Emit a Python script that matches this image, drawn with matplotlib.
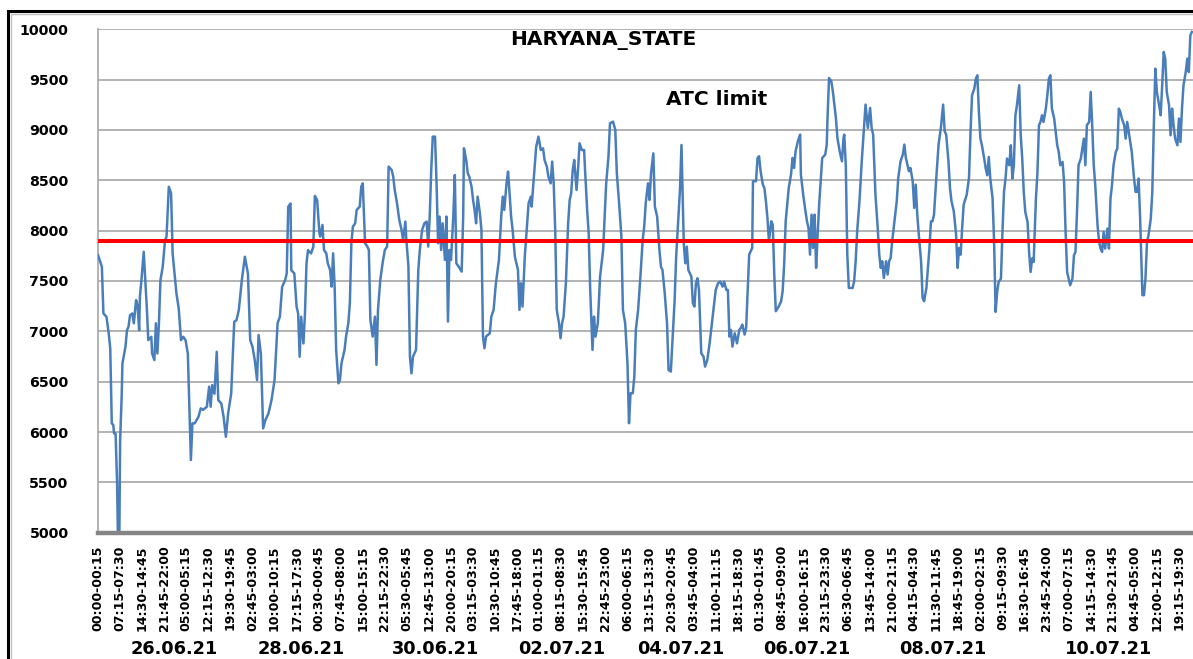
import matplotlib
matplotlib.use("Agg")
import matplotlib.pyplot as plt
import matplotlib.transforms as mtransforms
from matplotlib.patches import Rectangle
import numpy as np

# 15-minute block index (0 = 26.06.21 00:00) and drawal in MW
block_idx = [
    0, 5, 7, 11, 14, 16, 18, 20, 21, 23, 25, 26, 28, 29, 31, 32, 36, 38, 40, 42, 45, 47, 50, 52, 54,
    55, 57, 60, 62, 64, 66, 70, 71, 74, 76, 78, 80, 82, 85, 88, 90, 93, 96, 98, 101, 103, 106, 109,
    112, 115, 118, 122, 124, 127, 132, 135, 138, 143, 146, 148, 150, 153, 156, 158, 162, 165, 168,
    171, 175, 179, 182, 185, 189, 193, 197, 200, 203, 206, 209, 211, 214, 217, 220, 224, 228, 232,
    236, 239, 242, 246, 248, 250, 253, 254, 258, 261, 263, 265, 267, 270, 272, 274, 276, 280, 283,
    285, 288, 291, 292, 295, 297, 300, 302, 305, 307, 309, 311, 313, 316, 318, 320, 322, 324, 326,
    329, 331, 333, 335, 338, 340, 342, 344, 346, 348, 351, 354, 356, 358, 361, 364, 366, 368, 371,
    374, 377, 380, 382, 386, 388, 390, 393, 396, 399, 401, 404, 405, 408, 410, 412, 414, 418, 421,
    423, 426, 429, 432, 434, 436, 438, 440, 443, 445, 447, 449, 451, 453, 456, 458, 460, 462, 464,
    467, 469, 471, 474, 478, 480, 481, 484, 486, 488, 491, 493, 495, 497, 499, 502, 504, 506, 508,
    510, 515, 517, 520, 523, 527, 530, 532, 534, 537, 539, 541, 543, 545, 548, 550, 552, 554, 556,
    558, 561,
    566, 569, 570, 573, 576, 579, 582, 585, 587, 590, 592, 595, 597, 599, 601, 603, 606, 608, 610,
    612, 615, 618, 620, 622, 624, 626, 629, 631, 633, 636, 639, 640, 643, 645, 647, 650, 652, 654,
    657, 660, 664, 666, 668, 671, 673, 677, 680, 682, 685, 688, 690, 693, 696, 698, 700, 703, 705,
    707, 710, 713, 716, 718, 720, 723, 725, 727, 730, 732, 735, 738, 740, 742, 745, 748, 750, 753,
    755, 758, 760, 762, 765, 767, 770, 772, 774, 776, 780, 782, 784, 786, 788, 790, 793, 796, 798,
    801, 804, 807, 809, 812, 815, 818, 821, 823, 826, 828, 830, 832, 834, 837, 840, 843,
    845, 847, 850, 852, 854, 856, 860, 861, 865, 867, 869, 871, 874, 876, 878, 880, 882, 885, 887,
    889, 891, 895, 898, 900, 902, 904, 908, 911, 913, 915, 917, 920, 923, 924, 927, 930, 932, 934,
    936, 938, 940, 942, 944, 946, 948, 950, 952, 956, 958, 959, 961, 964, 966, 968, 970, 972, 975,
    978, 980, 981, 983, 985, 987, 992, 994, 996, 998, 1001, 1004, 1007, 1009, 1012, 1015, 1017,
    1019, 1022, 1025, 1027, 1029, 1031, 1033, 1036, 1038, 1040, 1042, 1044, 1047, 1050, 1052, 1055,
    1058, 1060, 1062, 1064, 1066, 1068, 1071, 1073, 1075, 1077, 1079, 1082, 1084, 1086, 1089, 1093,
    1095, 1097, 1099, 1102, 1105, 1108, 1111, 1113, 1115, 1118, 1120, 1122, 1125, 1128, 1130, 1132,
    1134, 1136, 1138, 1142, 1145,
    1147, 1149, 1152, 1154, 1156, 1158, 1160, 1162, 1165, 1167, 1169, 1171, 1173, 1176, 1178, 1180,
    1182, 1184, 1187, 1189, 1191, 1193, 1195, 1198, 1200, 1202, 1204, 1206, 1208, 1211, 1213, 1215,
    1217, 1219, 1222, 1224, 1226, 1228, 1230, 1233, 1235, 1237, 1239, 1241, 1243, 1246, 1248, 1250,
    1252, 1254, 1257, 1259, 1261, 1263, 1265, 1268, 1270, 1272, 1274, 1278, 1281, 1283, 1285, 1287,
    1289, 1292, 1294, 1296, 1298, 1300, 1303, 1305, 1307, 1309, 1311, 1314, 1316, 1318, 1320, 1322,
    1324, 1327, 1329, 1331, 1333, 1335, 1338, 1340, 1342, 1344, 1346, 1349, 1351, 1353, 1355, 1357,
    1359, 1362, 1364, 1366, 1368, 1370, 1373, 1375, 1377, 1379, 1381, 1384, 1386, 1388, 1390, 1392,
    1395, 1397, 1399, 1401, 1403, 1405, 1408, 1410, 1412, 1414, 1416, 1419, 1421, 1423, 1425, 1427,
    1430, 1432, 1434, 1436, 1438,
]
drawal_mw = [
    7757, 7641, 7178, 7145, 6980, 6830, 6086, 6070, 5986, 5986, 5490, 5000, 5000, 5920, 6350, 6680,
    6847, 7012, 7045, 7160, 7178, 7080, 7310, 7250, 7012, 7343, 7510, 7790, 7510, 7245, 6913, 6946,
    6780, 6715, 7080, 6780, 7080, 7510, 7641, 7906, 7940, 8436, 8370, 7774, 7542, 7377, 7228, 6913,
    6946, 6913, 6780, 5722, 6086, 6086, 6152, 6235, 6220, 6251, 6450, 6251, 6466, 6380, 6797, 6317,
    6284, 6152, 5953, 6185, 6383, 7095, 7112, 7211, 7510, 7741, 7575, 6913, 6847, 6715, 6516, 6963,
    6780, 6036, 6119, 6185, 6317, 6516, 7080, 7145, 7443, 7510, 7575, 8237, 8270, 7608, 7575, 7244,
    7178, 6748, 7145, 6880, 7178, 7675, 7807, 7774, 7840,
    8345, 8305, 7974, 7941, 8057, 7808, 7775, 7676, 7610, 7444, 7775, 7444, 6815, 6484, 6517, 6683,
    6749, 6815, 6948, 7080, 7279, 7875, 8040, 8073, 8206, 8222, 8239, 8437, 8470, 7875, 7842, 7808,
    7113, 6948, 7146, 6667, 7213, 7510, 7676, 7808, 7842, 8636, 8603, 8537, 8404, 8272, 8106, 8007,
    7908, 8090, 7941, 7643, 6749, 6583, 6749, 6815, 7610, 7808, 8007, 8073, 8090, 7842, 8140, 8603,
    8934, 8934, 8470, 7875, 8140, 7808, 8073, 7709, 8140, 7097, 7808, 7709, 8140, 8553, 7676, 7643,
    7593, 8140, 8818, 8702, 8570, 8537, 8437, 8305, 8206, 8073, 8338, 8173, 8007, 6948, 6832, 6948,
    6981, 7146, 7213, 7477, 7709, 8140, 8338, 8206, 8470, 8586, 8371, 8140, 8007, 7742, 7676, 7610,
    7213, 7477, 7246, 7742,
    8272, 8338, 8239, 8537, 8835, 8934, 8801, 8818, 8702, 8636, 8537, 8470, 8686, 8470, 8007, 7213,
    7080, 6931, 7080, 7146, 7477, 8073, 8305, 8371, 8603, 8702, 8404, 8603, 8868, 8801, 8801, 8636,
    8206, 7974, 7411, 6815, 7146, 6948, 7080, 7544, 7808, 8140, 8470, 8735, 9066, 9083, 9000, 8570,
    8272, 7941, 7213, 7080, 6683, 6087, 6385, 6385, 6550, 7014, 7213, 7544, 7908, 8040, 8272, 8470,
    8305, 8570, 8768, 8239, 8140, 7808, 7643, 7610, 7378, 7080, 6617, 6600, 6881, 7312, 7742, 8007,
    8404, 8851, 7875, 7676, 7842, 7610, 7544, 7279, 7246, 7477, 7527, 7411, 6782, 6749, 6650, 6716,
    6881, 7080, 7213, 7411, 7477, 7494, 7444, 7494, 7411, 7411, 6948, 7014, 6848, 6981, 6881, 7014,
    7034, 7067, 6968, 7034, 7398, 7762, 7828, 8491, 8491, 8722, 8739, 8590, 8457, 8424, 8292, 8126,
    7895, 8093, 8060, 7564, 7200, 7249, 7299, 7398, 7663, 8093, 8424, 8557, 8722, 8623, 8788, 8888,
    8954, 8557, 8358, 8193, 8093, 8027, 7762, 8159, 7828, 8159, 7630, 7961, 8259, 8491, 8722, 8755,
    8855, 9120, 9517, 9484, 9384, 9252, 9120, 8921, 8788, 8689, 8921, 8954, 8656, 7762, 7431, 7431,
    7497, 7696, 7994, 8292, 8689, 9020, 9252, 9020, 9219, 9020, 8954, 8358, 8027, 7762, 7630, 7696,
    7530, 7696, 7564, 7696, 7729, 7895, 8093, 8292, 8524, 8689, 8755, 8855, 8722, 8656, 8590, 8623,
    8491, 8226, 8457, 8159, 7961, 7696, 7332, 7299, 7431, 7828, 8093, 8093, 8159, 8524, 8855, 9020,
    9252, 8987, 8954, 8689, 8424, 8292, 8193, 7961, 7630, 7828, 7762, 8027, 8259, 8358, 8524,
    8980, 9345, 9411, 9510, 9543, 9179, 8914, 8848, 8716, 8616, 8550, 8732, 8517, 8319, 7888, 7193,
    7392, 7491, 7524, 7988, 8385, 8517, 8716, 8650, 8848, 8517, 8650, 9146, 9245, 9444, 8947, 8716,
    8385, 8186, 8087, 7789, 7590, 7723, 7690, 8319, 8583, 9047, 9080, 9146, 9080, 9212, 9345, 9510,
    9543, 9212, 9113, 8980, 8848, 8782, 8650, 8683, 8484, 7988, 7590, 7458, 7524, 7756, 7789, 8186,
    8650, 8716, 8815, 8914, 8650, 9047, 9080, 9378, 9047, 8650, 8451, 8054, 7888, 7822, 7789, 7988,
    7822, 8021, 7822, 8319, 8451, 8650, 8782, 8815, 9212, 9179, 9113, 9047, 8914, 9080, 8980, 8881,
    8782, 8517, 8385, 8385, 8517, 8120, 7359, 7359, 7524, 7888, 7954, 8120, 8385, 9047, 9609, 9378,
    9245, 9146, 9444, 9775, 9709, 9378, 9245, 8947, 9212, 9047, 8914, 8848, 9113, 8881, 9212, 9444,
    9576, 9709, 9576, 9940, 9974,
]

atc_limit = 7900
n_blocks = 1440

slot_labels = [
    "00:00-00:15", "07:15-07:30", "14:30-14:45", "21:45-22:00", "05:00-05:15", "12:15-12:30",
    "19:30-19:45", "02:45-03:00", "10:00-10:15", "17:15-17:30", "00:30-00:45", "07:45-08:00",
    "15:00-15:15", "22:15-22:30", "05:30-05:45", "12:45-13:00", "20:00-20:15", "03:15-03:30",
    "10:30-10:45", "17:45-18:00", "01:00-01:15", "08:15-08:30", "15:30-15:45", "22:45-23:00",
    "06:00-06:15", "13:15-13:30", "20:30-20:45", "03:45-04:00", "11:00-11:15", "18:15-18:30",
    "01:30-01:45", "08:45-09:00", "16:00-16:15", "23:15-23:30", "06:30-06:45", "13:45-14:00",
    "21:00-21:15", "04:15-04:30", "11:30-11:45", "18:45-19:00", "02:00-02:15", "09:15-09:30",
    "16:30-16:45", "23:45-24:00", "07:00-07:15", "14:15-14:30", "21:30-21:45", "04:45-05:00",
    "12:00-12:15", "19:15-19:30",
]
label_step = 29

date_labels = ["26.06.21", "28.06.21", "30.06.21", "02.07.21", "04.07.21", "06.07.21",
               "08.07.21", "10.07.21"]
date_pos = [100, 267, 444, 610, 766, 932, 1110, 1328]

yticks = list(range(5000, 10001, 500))

W, H = 1193, 659
fig = plt.figure(figsize=(W / 100, H / 100), dpi=100)
ax = fig.add_axes([97.7 / W, 1 - 532.7 / H, 1 - 97.7 / W, (532.7 - 29.3) / H])

ax.plot(block_idx, drawal_mw, color="#4a7ebb", lw=1.8, zorder=3)
ax.axhline(atc_limit, color="#ff0000", lw=2.9, zorder=4)

ax.set_xlim(-0.5, n_blocks - 0.5)
ax.set_ylim(5000, 10000)
ax.set_yticks(yticks)
ax.set_yticklabels([str(v) for v in yticks], fontsize=10.2, fontweight="bold")
ax.yaxis.grid(True, color="#a6a6a6", lw=1.2, zorder=0)
ax.set_axisbelow(True)

ax.set_xticks(np.arange(len(slot_labels)) * label_step)
ax.set_xticklabels(slot_labels, rotation=90, fontsize=9.1, fontweight="bold", va="top")
ax.tick_params(axis="x", length=0, pad=9)
ax.tick_params(axis="y", length=0, pad=21)

for s in ["top", "right"]:
    ax.spines[s].set_visible(False)
ax.spines["left"].set_color("#a6a6a6")
ax.spines["left"].set_linewidth(1.2)
ax.spines["bottom"].set_color("#858585")
ax.spines["bottom"].set_linewidth(3.2)
ax.spines["bottom"].set_zorder(5)

fig.text(603.5 / W, 1 - 41 / H, "HARYANA_STATE", ha="center", va="center",
         fontsize=14.5, fontweight="bold")
fig.text(717 / W, 1 - 99.5 / H, "ATC limit", ha="center", va="center",
         fontsize=14.5, fontweight="bold")

trans = mtransforms.blended_transform_factory(ax.transData, fig.transFigure)
for pos, txt in zip(date_pos, date_labels):
    ax.text(pos, 1 - 658.5 / H, txt, transform=trans, ha="center", va="bottom",
            fontsize=12.8, fontweight="bold", clip_on=False)

# outer frame (open on the right and bottom, as in the cropped original)
fig.add_artist(Rectangle((8 / W, -0.1), 1.2, 1 - 10.5 / H + 0.1, transform=fig.transFigure,
                         fill=False, ec="black", lw=2.2))
fig.add_artist(Rectangle((11 / W, -0.1), 1.2, 1 - 13.5 / H + 0.1, transform=fig.transFigure,
                         fill=False, ec="#c0c0c0", lw=1))

fig.savefig("out.png", dpi=100)
